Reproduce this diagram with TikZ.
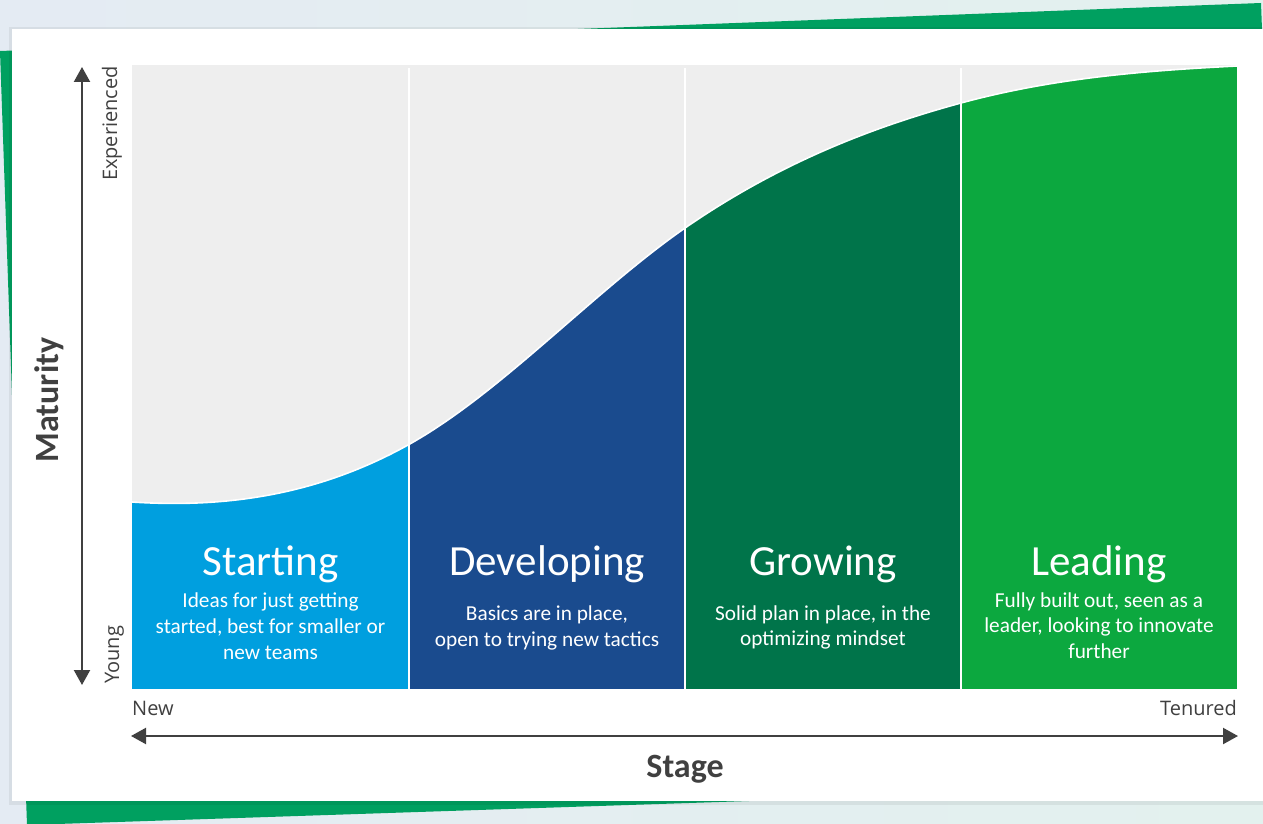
\documentclass[tikz,border=0pt]{standalone}
\usepackage{fontspec}
\setmainfont{Carlito}
\newfontfamily\axisfont{Open Sans}
\usetikzlibrary{arrows.meta}
\definecolor{bgL}{HTML}{E4EBF3}
\definecolor{bgR}{HTML}{E3F1EE}
\definecolor{bandgreen}{HTML}{00A060}
\definecolor{plotgrey}{HTML}{EEEEEE}
\definecolor{cStart}{HTML}{009FDF}
\definecolor{cDev}{HTML}{1A4B8E}
\definecolor{cGrow}{HTML}{00744A}
\definecolor{cLead}{HTML}{0CA83F}
\definecolor{axisgrey}{HTML}{404040}
\tikzset{
  title/.style={text=white, font=\fontsize{43}{52}\selectfont, anchor=base, inner sep=0pt},
  body/.style={text=white, font=\fontsize{21.3}{26}\selectfont, anchor=base, inner sep=0pt},
  axislabel/.style={text=axisgrey, font=\axisfont\fontsize{20}{24}\selectfont, inner sep=0pt},
  axistitle/.style={text=axisgrey, font=\bfseries\fontsize{34}{40}\selectfont, inner sep=0pt},
  axisarrow/.style={draw=axisgrey, line width=2.2pt, {Triangle[width=16pt,length=15pt]}-{Triangle[width=16pt,length=15pt]}},
  divider/.style={draw=white, line width=1.8pt},
}
\begin{document}
\begin{tikzpicture}[x=1pt,y=-1pt]
\useasboundingbox (0,0) rectangle (1263,824);
\clip (0,0) rectangle (1263,824);
% background
\shade[left color=bgL, right color=bgR] (0,0) rectangle (1263,824);
% tilted green band behind the card
\fill[bandgreen] (0,51) -- (1261,3) -- (1290,783) -- (27,825) -- cycle;
% card shadow and card
\fill[black, opacity=0.06] (9,27) rectangle (1263,805);
\fill[white] (12,29) rectangle (1263,801);
% plot area
\fill[plotgrey] (132,65) rectangle (1237,689);
\begin{scope}
  \clip (132,689) -- (132,502)
     .. controls (224,508) and (316,496) .. (408,445)
     .. controls (500,394) and (593,292) .. (685,228)
     .. controls (777,164.5) and (869,128) .. (961,103)
     .. controls (1053,78) and (1145,70.6) .. (1237,66)
     -- (1237,689) -- cycle;
  \fill[cStart] (132,60) rectangle (409,689);
  \fill[cDev] (409,60) rectangle (685,689);
  \fill[cGrow] (685,60) rectangle (961,689);
  \fill[cLead] (961,60) rectangle (1237,689);
\end{scope}
\draw[white, line width=1.6pt] (132,502)
     .. controls (224,508) and (316,496) .. (408,445)
     .. controls (500,394) and (593,292) .. (685,228)
     .. controls (777,164.5) and (869,128) .. (961,103)
     .. controls (1053,78) and (1145,70.6) .. (1237,66);
\draw[divider] (409,68) -- (409,689);
\draw[divider] (685,68) -- (685,689);
\draw[divider] (961,68) -- (961,689);
% stage texts
\node[title] (tS) at (270.5,575) {Starting};
\node[body] (bS1) at (270.5,607) {Ideas for just getting};
\node[body] (bS2) at (270.5,633) {started, best for smaller or};
\node[body] (bS3) at (270.5,659) {new teams};
\node[title] (tD) at (547,575) {Developing};
\node[body] (bD1) at (547,620) {Basics are in place,};
\node[body] (bD2) at (547,646) {open to trying new tactics};
\node[title] (tG) at (823,575) {Growing};
\node[body] (bG1) at (823,620) {Solid plan in place, in the};
\node[body] (bG2) at (823,645) {optimizing mindset};
\node[title] (tL) at (1099,575) {Leading};
\node[body] (bL1) at (1099,607) {Fully built out, seen as a};
\node[body] (bL2) at (1099,632) {leader, looking to innovate};
\node[body] (bL3) at (1099,658) {further};
% axes
\coordinate (vtop) at (82,67);
\coordinate (vbot) at (82,685);
\draw[axisarrow] (vbot) -- (vtop);
\coordinate (hleft) at (131,736);
\coordinate (hright) at (1238,736);
\draw[axisarrow] (hleft) -- (hright);
\node[axislabel, rotate=90, anchor=base east] (exp) at (117,66) {Experienced};
\node[axislabel, rotate=90, anchor=base west] (yng) at (119,684) {Young};
\node[axislabel, anchor=base west] (new) at (132,715) {New};
\node[axislabel, anchor=base east] (ten) at (1237,715) {Tenured};
\node[axistitle, anchor=base] (stage) at (685,777) {Stage};
\node[axistitle, rotate=90, anchor=base] (mat) at (58,400) {Maturity};
\end{tikzpicture}
\end{document}
